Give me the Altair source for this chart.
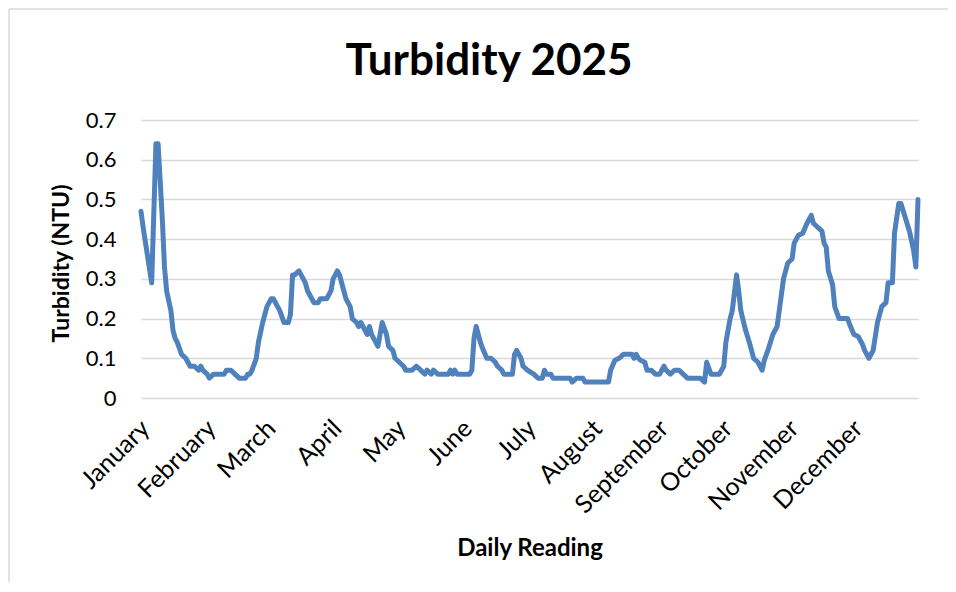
import altair as alt
import pandas as pd

# Day of year (0 = 1 January 2025) and turbidity readings (NTU)
days = [0, 1, 3, 5, 7, 8, 10, 11, 12, 14, 15, 16, 17, 19, 21, 23, 25, 27, 28, 29,
        31, 32, 34, 39, 40, 42, 44, 46, 49, 50, 51, 52, 54, 55, 57, 59, 61, 62, 64, 65,
        67, 69, 70, 71, 72, 74, 75, 77, 78, 80, 81, 83, 84, 87, 89, 90, 92, 93, 95, 96,
        98, 99, 101, 102, 103, 105, 106, 107, 108, 109, 111, 113, 115, 116, 118, 119, 121, 123, 124, 127,
        129, 131, 133, 134, 136, 137, 139, 144, 145, 146, 147, 148, 154, 155, 156, 157, 159, 160, 162, 164,
        166, 167, 169, 170, 174, 175, 176, 178, 179, 181, 184, 186, 188, 189, 190, 192, 193, 201, 202, 204,
        207, 208, 219, 220, 222, 224, 226, 230, 231, 232, 233, 234, 236, 237, 239, 241, 243, 245, 246, 248,
        250, 252, 254, 256, 262, 264, 265, 267, 271, 273, 274, 276, 277, 279, 280, 281, 283, 285, 287, 289,
        291, 292, 294, 296, 298, 300, 301, 303, 305, 306, 308, 310, 312, 314, 315, 317, 319, 320, 321, 322,
        324, 325, 327, 331, 332, 334, 336, 338, 339, 341, 343, 345, 347, 349, 350, 352, 353, 355, 356, 360,
        362, 363, 364]
values = [0.47, 0.43, 0.36, 0.29, 0.64, 0.64, 0.45, 0.33, 0.27, 0.22, 0.17, 0.15, 0.14, 0.11, 0.10, 0.08, 0.08, 0.07, 0.08, 0.07,
          0.06, 0.05, 0.06, 0.06, 0.07, 0.07, 0.06, 0.05, 0.05, 0.06, 0.06, 0.07, 0.10, 0.14, 0.19, 0.23, 0.25, 0.25, 0.23, 0.22,
          0.19, 0.19, 0.21, 0.31, 0.31, 0.32, 0.31, 0.29, 0.27, 0.25, 0.24, 0.24, 0.25, 0.25, 0.27, 0.30, 0.32, 0.31, 0.27, 0.25,
          0.23, 0.20, 0.19, 0.18, 0.19, 0.17, 0.16, 0.18, 0.16, 0.15, 0.13, 0.19, 0.16, 0.13, 0.12, 0.10, 0.09, 0.08, 0.07, 0.07,
          0.08, 0.07, 0.06, 0.07, 0.06, 0.07, 0.06, 0.06, 0.07, 0.06, 0.07, 0.06, 0.06, 0.07, 0.15, 0.18, 0.14, 0.125, 0.10, 0.10,
          0.09, 0.08, 0.07, 0.06, 0.06, 0.11, 0.12, 0.10, 0.08, 0.07, 0.06, 0.05, 0.05, 0.07, 0.06, 0.06, 0.05, 0.05, 0.04, 0.05,
          0.05, 0.04, 0.04, 0.07, 0.095, 0.10, 0.11, 0.11, 0.10, 0.11, 0.10, 0.095, 0.09, 0.07, 0.07, 0.06, 0.06, 0.08, 0.07, 0.06,
          0.07, 0.07, 0.06, 0.05, 0.05, 0.04, 0.09, 0.06, 0.06, 0.08, 0.14, 0.20, 0.22, 0.31, 0.27, 0.22, 0.175, 0.14, 0.10, 0.09,
          0.07, 0.095, 0.125, 0.16, 0.18, 0.26, 0.30, 0.34, 0.35, 0.39, 0.41, 0.415, 0.44, 0.46, 0.44, 0.43, 0.42, 0.39, 0.38, 0.32,
          0.285, 0.23, 0.20, 0.20, 0.185, 0.16, 0.155, 0.135, 0.12, 0.10, 0.12, 0.19, 0.23, 0.24, 0.29, 0.29, 0.415, 0.49, 0.49, 0.42,
          0.37, 0.33, 0.50]

month_names = ["January", "February", "March", "April", "May", "June", "July",
               "August", "September", "October", "November", "December"]
month_starts = [0, 31, 59, 90, 120, 151, 181, 212, 243, 273, 304, 334]
y_ticks = [0, 0.1, 0.2, 0.3, 0.4, 0.5, 0.6, 0.7]

TITLE = "Turbidity 2025"
X_TITLE = "Daily Reading"
Y_TITLE = "Turbidity (NTU)"

df = pd.DataFrame({"day": days, "turbidity": values})

names_js = "[" + ",".join("'" + m + "'" for m in month_names) + "]"
starts_js = "[" + ",".join(str(s) for s in month_starts) + "]"
label_expr = f"{names_js}[indexof({starts_js}, datum.value)]"

W, H = 777, 278
FONT = "Lato"

line = alt.Chart(df).mark_line(
    color="#4f81bd", strokeWidth=5, strokeJoin="round", strokeCap="round"
).encode(
    x=alt.X("day:Q",
            scale=alt.Scale(domain=[0, 364], nice=False, zero=False),
            axis=alt.Axis(values=month_starts, labelExpr=label_expr,
                          labelAngle=315, labelAlign="right", labelBaseline="middle",
                          labelFont=FONT, labelFontSize=25, labelColor="#000000",
                          labelPadding=26, labelOffset=4, labelOverlap=False, labelFlush=False,
                          ticks=False, domain=False, grid=False,
                          title=X_TITLE, titleFont=FONT, titleFontSize=24,
                          titleFontWeight="bold", titleColor="#000000",
                          titleY=150, titleBaseline="middle")),
    y=alt.Y("turbidity:Q",
            scale=alt.Scale(domain=[0, 0.7], nice=False),
            axis=alt.Axis(values=y_ticks, format=".1~f",
                          labelFont=FONT, labelFontSize=22, labelColor="#000000",
                          labelPadding=25, ticks=False, domain=False,
                          grid=True, gridColor="#d9d9d9", gridWidth=1.5,
                          title=Y_TITLE, titleFont=FONT, titleFontSize=23,
                          titleFontWeight="bold", titleColor="#000000",
                          titleAngle=270, titleX=-80, titleY=H / 2 + 4,
                          titleAlign="center", titleBaseline="middle")),
)

one = pd.DataFrame({"t": [TITLE]})

title = alt.Chart(one).mark_text(
    font=FONT, fontSize=44, fontWeight="bold", color="#000000",
    align="center", baseline="alphabetic"
).encode(text="t:N", x=alt.value(348), y=alt.value(-45))

frame_top = alt.Chart(one).mark_rule(color="#d9d9d9", strokeWidth=1.5).encode(
    x=alt.value(-132), x2=alt.value(900), y=alt.value(-111))
frame_left = alt.Chart(one).mark_rule(color="#d9d9d9", strokeWidth=1.5).encode(
    x=alt.value(-132), y=alt.value(-111), y2=alt.value(500))

chart = alt.layer(frame_top, frame_left, line, title).properties(
    width=W, height=H,
    autosize=alt.AutoSizeParams(type="none"),
    padding={"left": 133, "top": 112, "right": 30, "bottom": 184},
    background="#ffffff",
).configure_view(stroke=None)

chart.save("out.html", embed_options={"renderer": "svg", "actions": False})
